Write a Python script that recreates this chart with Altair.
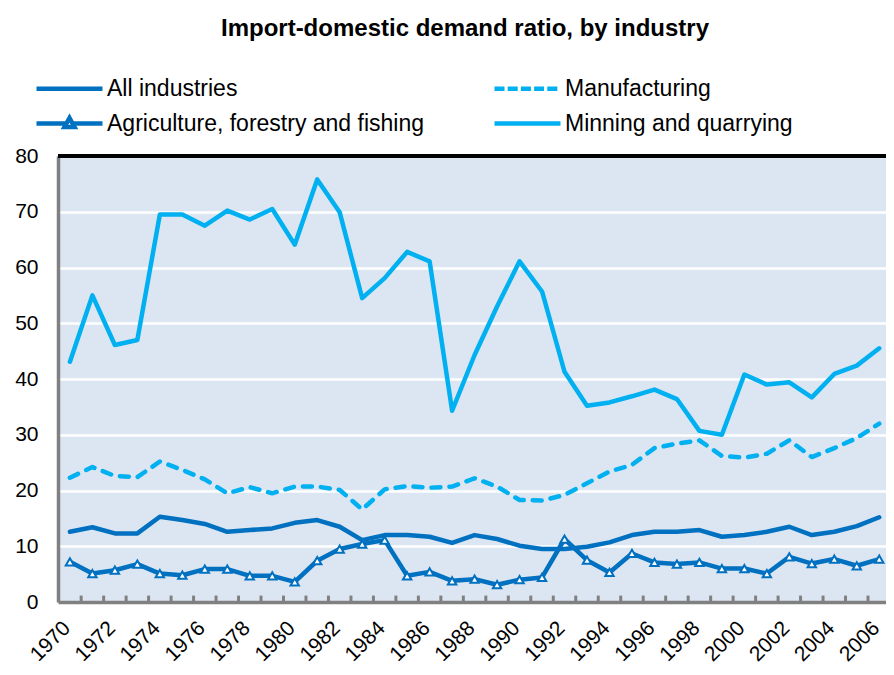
import altair as alt
import pandas as pd

years = list(range(1970, 2007))

all_industries = [12.6, 13.4, 12.3, 12.3, 15.3, 14.7, 14.0, 12.6, 12.9, 13.2, 14.2,
                  14.7, 13.5, 11.1, 12.0, 12.0, 11.7, 10.6, 12.0, 11.3, 10.1, 9.5, 9.5,
                  9.9, 10.7, 12.0, 12.6, 12.6, 12.9, 11.7, 12.0, 12.6, 13.5, 12.0, 12.6, 13.6, 15.2]
manufacturing = [22.3, 24.2, 22.6, 22.4, 25.2, 23.7, 22.0, 19.5, 20.6, 19.5, 20.7,
                 20.7, 20.1, 16.6, 20.2, 20.8, 20.5, 20.7, 22.2, 20.7, 18.3, 18.2, 19.2,
                 21.3, 23.4, 24.6, 27.6, 28.4, 29.0, 26.2, 25.9, 26.6, 29.0, 26.0, 27.6, 29.4, 32.0]
agriculture = [7.2, 5.1, 5.7, 6.8, 5.1, 4.8, 5.9, 5.9, 4.7, 4.7, 3.6,
               7.4, 9.5, 10.4, 11.1, 4.7, 5.4, 3.8, 4.1, 3.1, 4.0, 4.4, 11.3,
               7.5, 5.3, 8.7, 7.1, 6.8, 7.1, 6.0, 6.0, 5.1, 8.1, 6.9, 7.7, 6.5, 7.7]
mining = [43.1, 55.0, 46.1, 47.0, 69.5, 69.5, 67.5, 70.2, 68.6, 70.5, 64.1,
          75.8, 69.9, 54.5, 58.1, 62.8, 61.1, 34.3, 44.3, 53.0, 61.1, 55.7, 41.3,
          35.2, 35.8, 36.9, 38.1, 36.4, 30.7, 30.0, 40.8, 39.0, 39.4, 36.7, 40.9, 42.4, 45.5]

S_ALL = "All industries"
S_MAN = "Manufacturing"
S_AGR = "Agriculture, forestry and fishing"
S_MIN = "Minning and quarrying"

# legend fills column by column: col 1 = All, Agriculture; col 2 = Manufacturing, Mining
legend_order = [S_ALL, S_AGR, S_MAN, S_MIN]
colors = ["#0070C0", "#0070C0", "#00B0F0", "#00B0F0"]

series_data = [(S_MIN, mining), (S_MAN, manufacturing), (S_ALL, all_industries), (S_AGR, agriculture)]
rows = []
for name, vals in series_data:
    for yr, v in zip(years, vals):
        rows.append({"year": yr, "value": v, "series": name})
df = pd.DataFrame(rows)

tick_df = pd.DataFrame({"pos": [y + 0.5 for y in years[:-1]]})

FONT = "Liberation Sans"
W, H = 828, 446

xscale = alt.Scale(domain=[1969.47, 2006.3], nice=False, zero=False)
yscale = alt.Scale(domain=[0, 80], nice=False)
cscale = alt.Scale(domain=legend_order, range=colors)

tri = "M-6.6,0H-0.6M0.6,0H6.6M0,-1.1L1,0.7L-1,0.7Z"
shape_sig = f"datum.value === '{S_AGR}' ? '{tri}' : 'M-6.6,0H6.6'"
dash_sig = f"datum.value === '{S_MAN}' ? [10,3.2] : [1,0]"

legend = alt.Legend(
    title=None, orient="none", legendX=-26, legendY=-79, columns=2,
    columnPadding=60, rowPadding=8, padding=0,
    symbolSize=100, symbolOffset=26, labelOffset=26,
    symbolType=alt.ExprRef(expr=shape_sig),
    symbolDash=alt.ExprRef(expr=dash_sig),
    symbolStrokeWidth=4.5, symbolFillColor="#FFFFFF",
    labelFontSize=23, labelFont=FONT, labelColor="#000000", labelLimit=500,
    labelBaseline="middle",
)

x_axis = alt.Axis(values=list(range(1970, 2007, 2)), format="d", labelAngle=-45,
                  labelAlign="right", labelBaseline="top", labelPadding=15, labelOffset=-11,
                  labelOverlap=False, labelBound=False,
                  ticks=False, grid=False, domainColor="#808080", domainWidth=3.5,
                  labelFontSize=21, labelFont=FONT, labelColor="#000000", title=None)
y_axis = alt.Axis(values=list(range(0, 81, 10)), ticks=False, grid=True,
                  gridColor="#FFFFFF", gridWidth=2.5, domainColor="#808080", domainWidth=3.5,
                  labelFontSize=21, labelFont=FONT, labelColor="#000000", labelPadding=20,
                  title=None)

ticks = alt.Chart(tick_df).mark_rule(color="#808080", strokeWidth=3).encode(
    x=alt.X("pos:Q", scale=xscale, axis=x_axis),
    y=alt.datum(0, scale=yscale, axis=y_axis),
    y2=alt.datum(1.15),
)

top_border = alt.Chart(tick_df).mark_rule(color="#000000", strokeWidth=3).encode(
    y=alt.datum(80),
)

manuf_line = alt.Chart(df).transform_filter(
    alt.datum.series == S_MAN
).mark_line(strokeWidth=4.5, strokeJoin="round", strokeCap="round",
            strokeDash=[9, 9], color="#00B0F0").encode(
    x=alt.X("year:Q", scale=xscale),
    y=alt.Y("value:Q", scale=yscale),
)

lines = alt.Chart(df).transform_filter(
    alt.datum.series != S_MAN
).mark_line(strokeWidth=4.5, strokeJoin="round", strokeCap="round").encode(
    x=alt.X("year:Q", scale=xscale),
    y=alt.Y("value:Q", scale=yscale),
    color=alt.Color("series:N", scale=cscale, legend=legend),
    detail="series:N",
)

points = alt.Chart(df).transform_filter(
    alt.datum.series == S_AGR
).mark_point(shape="triangle-up", size=70, filled=True, fill="#FFFFFF",
             stroke="#0070C0", strokeWidth=2, opacity=1).encode(
    x=alt.X("year:Q", scale=xscale),
    y=alt.Y("value:Q", scale=yscale),
)

chart = alt.layer(ticks, top_border, manuf_line, lines, points).properties(
    width=W, height=H,
    autosize=alt.AutoSizeParams(type="none"),
    padding={"left": 50, "top": 148, "right": 0, "bottom": 65},
    background="#FFFFFF",
    title=alt.TitleParams("Import-domestic demand ratio, by industry", fontSize=24,
                          fontWeight="bold", font=FONT, color="#000000",
                          anchor="middle", dx=-7, offset=36),
).configure_view(fill="#DCE6F2", stroke=None)

chart.save("out.html", embed_options={"renderer": "svg", "actions": False})
